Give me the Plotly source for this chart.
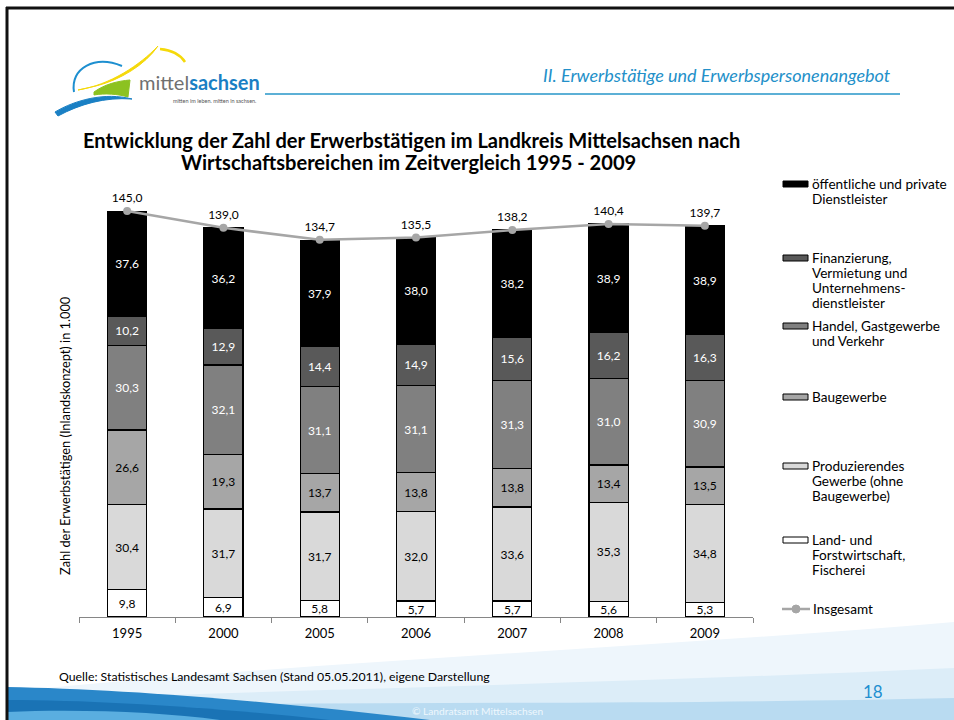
import plotly.graph_objects as go

# ---------------- data ----------------
years = ["1995", "2000", "2005", "2006", "2007", "2008", "2009"]
land = [9.8, 6.9, 5.8, 5.7, 5.7, 5.6, 5.3]
produz = [30.4, 31.7, 31.7, 32.0, 33.6, 35.3, 34.8]
bau = [26.6, 19.3, 13.7, 13.8, 13.8, 13.4, 13.5]
handel = [30.3, 32.1, 31.1, 31.1, 31.3, 31.0, 30.9]
finanz = [10.2, 12.9, 14.4, 14.9, 15.6, 16.2, 16.3]
oeff = [37.6, 36.2, 37.9, 38.0, 38.2, 38.9, 38.9]
total = [145.0, 139.0, 134.7, 135.5, 138.2, 140.4, 139.7]

series_names = [
    "Land- und Forstwirtschaft, Fischerei",
    "Produzierendes Gewerbe (ohne Baugewerbe)",
    "Baugewerbe",
    "Handel, Gastgewerbe und Verkehr",
    "Finanzierung, Vermietung und Unternehmensdienstleister",
    "öffentliche und private Dienstleister",
]
legend_lines = [
    ["Land- und", "Forstwirtschaft,", "Fischerei"],
    ["Produzierendes", "Gewerbe (ohne", "Baugewerbe)"],
    ["Baugewerbe"],
    ["Handel, Gastgewerbe", "und Verkehr"],
    ["Finanzierung,", "Vermietung und", "Unternehmens-", "dienstleister"],
    ["öffentliche und private", "Dienstleister"],
]
total_name = "Insgesamt"
series_values = [land, produz, bau, handel, finanz, oeff]
series_colors = ["#ffffff", "#d9d9d9", "#a6a6a6", "#808080", "#595959", "#000000"]
label_colors = ["#000000", "#000000", "#000000", "#ffffff", "#ffffff", "#ffffff"]

FONT = "Lato"

# ---------------- geometry helpers (pixel -> paper) ----------------
L, R, T, B = 79, 753, 169, 617
W, H = 954, 720


def px(x):
    return (x - L) / (R - L)


def py(y):
    return (B - y) / (B - T)


def pt(x, y):
    return f"{px(x):.5f},{py(y):.5f}"


fig = go.Figure()

for name, vals, col, lc in zip(series_names, series_values, series_colors, label_colors):
    fig.add_trace(go.Bar(
        x=years, y=vals, name=name,
        marker=dict(color=col, line=dict(color="#000000", width=1.2)),
        texttemplate="%{y:.1f}", textposition="inside", insidetextanchor="middle",
        textfont=dict(color=lc, size=12, family=FONT),
        showlegend=False,
    ))

fig.add_trace(go.Scatter(
    x=years, y=total, name=total_name, mode="lines+markers+text",
    line=dict(color="#a6a6a6", width=2.5),
    marker=dict(color="#a6a6a6", size=8),
    texttemplate="%{y:.1f}", textposition="top center",
    textfont=dict(color="#000000", size=12, family=FONT),
    cliponaxis=False, showlegend=False,
))

shapes = []
annotations = []


def note(x, y, text, size, color="#000000", xanchor="left", yanchor="middle", **kw):
    annotations.append(dict(xref="paper", yref="paper", x=px(x), y=py(y), xanchor=xanchor,
                            yanchor=yanchor, text=text, showarrow=False,
                            font=dict(family=FONT, size=size, color=color), **kw))


# ---------------- decorative background: bottom wave ----------------
wave = [
    ([(7, 692), ("C", 300, 662, 650, 648, 954, 622), (954, 720), (7, 720)], "#eef6fc"),
    ([(7, 700), ("C", 300, 690, 650, 682, 954, 668), (954, 720), (7, 720)], "#dcedf8"),
    ([(7, 708), ("C", 300, 700, 600, 706, 954, 698), (954, 720), (7, 720)], "#b9dbf1"),
    ([(7, 687), ("C", 120, 689, 260, 700, 430, 720), (7, 720)], "#2a87c9"),
    ([(7, 700), ("C", 100, 700, 220, 708, 330, 720), (7, 720)], "#1a73b5"),
    ([(7, 712), ("C", 80, 709, 160, 712, 220, 720), (7, 720)], "#5aaee0"),
]
for pts, col in wave:
    d = "M " + pt(*pts[0])
    for p in pts[1:]:
        if p[0] == "C":
            d += " C " + pt(p[1], p[2]) + " " + pt(p[3], p[4]) + " " + pt(p[5], p[6])
        else:
            d += " L " + pt(*p)
    d += " Z"
    shapes.append(dict(type="path", xref="paper", yref="paper", path=d,
                       fillcolor=col, line=dict(width=0), layer="below"))

# slide border (top and left)
shapes.append(dict(type="line", xref="paper", yref="paper", x0=px(6), x1=px(954), y0=py(8), y1=py(8),
                   line=dict(color="#111111", width=3)))
shapes.append(dict(type="line", xref="paper", yref="paper", x0=px(7), x1=px(7), y0=py(7), y1=py(720),
                   line=dict(color="#111111", width=3)))

# header line
shapes.append(dict(type="line", xref="paper", yref="paper", x0=px(265), x1=px(900), y0=py(94), y1=py(94),
                   line=dict(color="#5cb0d6", width=2)))

# ---------------- logo (approximation) ----------------
logo_paths = [
    ("M " + pt(74, 92) + " C " + pt(70, 68) + " " + pt(95, 55) + " " + pt(122, 66), None, "#1d8fd0", 2),
    ("M " + pt(78, 90) + " C " + pt(110, 85) + " " + pt(140, 65) + " " + pt(158, 46)
     + " C " + pt(145, 65) + " " + pt(120, 80) + " " + pt(96, 86) + " Z", "#f5d90a", "#f5d90a", 1),
    ("M " + pt(160, 49) + " C " + pt(170, 50) + " " + pt(180, 54) + " " + pt(185, 62), None, "#f5d90a", 2.5),
    ("M " + pt(94, 92) + " C " + pt(105, 84) + " " + pt(118, 81) + " " + pt(130, 80)
     + " L " + pt(128, 97) + " C " + pt(118, 94) + " " + pt(105, 93) + " " + pt(94, 95) + " Z",
     "#8cc220", "#8cc220", 1),
    ("M " + pt(55, 112) + " C " + pt(75, 100) + " " + pt(105, 92) + " " + pt(132, 99)
     + " C " + pt(105, 97) + " " + pt(80, 104) + " " + pt(58, 116) + " Z", "#1a80c4", "#1a80c4", 1),
]
for d, fill, lc, lw in logo_paths:
    s = dict(type="path", xref="paper", yref="paper", path=d, line=dict(color=lc, width=lw))
    if fill:
        s["fillcolor"] = fill
    shapes.append(s)

note(137, 82, "<span style='color:#707070'>mittel</span><b>sachsen</b>", 20, "#1a7fc4")
note(258, 101, "mitten im leben. mitten in sachsen.", 5.5, "#555555", xanchor="right")

# header text
note(893, 75, "<i>II. Erwerbstätige und Erwerbspersonenangebot</i>", 18, "#2390c9", xanchor="right")

# title (two lines)
note(411, 140, "<b>Entwicklung der Zahl der Erwerbstätigen im Landkreis Mittelsachsen nach</b>", 20.1,
     xanchor="center")
note(408, 162, "<b>Wirtschaftsbereichen im Zeitvergleich 1995 - 2009</b>", 20.1, xanchor="center")

# y-axis title
note(65, 436, "Zahl der Erwerbstätigen (Inlandskonzept) in 1.000", 12.8, xanchor="center",
     textangle=-90)

# ---------------- legend (manual) ----------------
legend_y = [540, 466, 397, 326, 258, 184]
LSTEP = 15
for lines, col, yy in zip(legend_lines, series_colors, legend_y):
    shapes.append(dict(type="rect", xref="paper", yref="paper", x0=px(783), x1=px(808),
                       y0=py(yy - 3), y1=py(yy + 3), fillcolor=col, line=dict(color="#000000", width=1)))
    for i, ln in enumerate(lines):
        note(810, yy + i * LSTEP, ln, 13.6)
shapes.append(dict(type="line", xref="paper", yref="paper", x0=px(782), x1=px(810), y0=py(609), y1=py(609),
                   line=dict(color="#a6a6a6", width=2.5)))
shapes.append(dict(type="circle", xref="paper", yref="paper", x0=px(792), x1=px(800), y0=py(613), y1=py(605),
                   fillcolor="#a6a6a6", line=dict(color="#a6a6a6", width=1)))
note(811, 609, total_name, 13.6)

# ---------------- footer ----------------
note(57, 676, "Quelle: Statistisches Landesamt Sachsen (Stand 05.05.2011), eigene Darstellung", 12.3)
note(873, 691, "18", 17, "#1f8fd0", xanchor="center")
note(478, 711, "© Landratsamt Mittelsachsen", 10.2, "#eef7fd", xanchor="center")

fig.update_layout(
    template="none",
    width=W, height=H, autosize=False,
    margin=dict(l=L, r=W - R, t=T, b=H - B, pad=0),
    paper_bgcolor="#ffffff", plot_bgcolor="rgba(0,0,0,0)",
    barmode="stack", bargap=0.594,
    separators=",.",
    showlegend=False,
    font=dict(family=FONT, size=12, color="#000000"),
    uniformtext=dict(mode="show", minsize=12),
    shapes=shapes, annotations=annotations,
    xaxis=dict(type="category", showline=True, linecolor="#868686", linewidth=1,
               ticks="outside", tickson="boundaries", ticklen=5, tickcolor="#868686",
               tickfont=dict(family=FONT, size=13, color="#000000"), ticklabelstandoff=4,
               showgrid=False, zeroline=False),
    yaxis=dict(range=[0, 160], visible=False, showgrid=False, zeroline=False),
    hovermode=False,
)

fig.write_html("out.html", post_script="document.body.style.margin='0';",
               config={"displayModeBar": False})
